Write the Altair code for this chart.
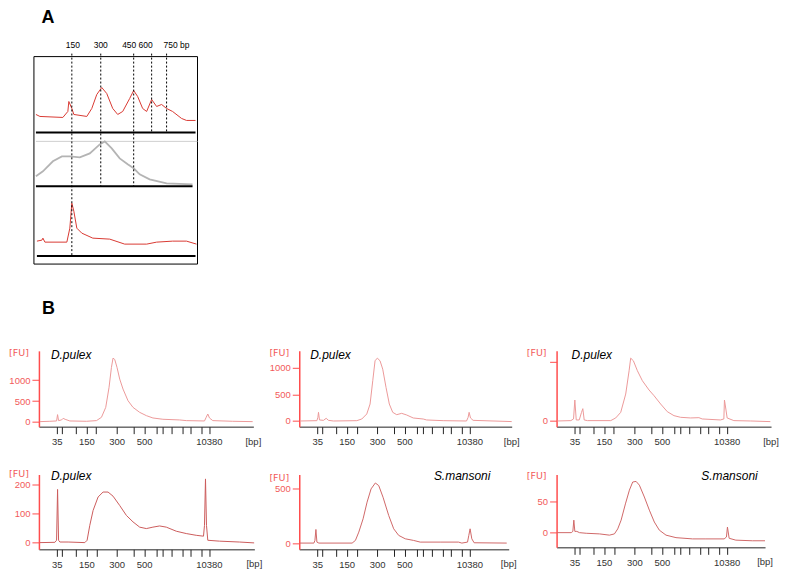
import altair as alt
import pandas as pd

FONT = "Liberation Sans"
RED_AXIS = "#ff4d4d"
RED_TEXT = "#f25a5a"

# ---------------- Panel A (fragment traces) ----------------
A_marker_text = ["150", "300", "450", "600", "750 bp"]
A_marker_pos = [38, 67, 100, 118, 133]
A_marker_label_pos = [39, 67, 95.5, 112, 143]
A_marker_floor = [8, 78, 78, 132, 132]
A_marker_top = 211
A_frame = {"x0": [0], "x1": [164], "y0": [0], "y1": [208]}

A1_pos = [2, 6, 29, 34, 35, 38, 40, 53, 58, 63, 68, 73, 79, 84, 89, 96, 100, 104, 109, 113, 118, 123, 128, 133, 139, 148, 153, 162]
A1_sig = [150, 148, 147, 153, 163, 156, 150, 148, 156, 170, 177, 171, 156, 150, 153, 166, 174, 168, 156, 153, 165, 158, 160, 156, 153, 146, 144, 144]

A2_pos = [2, 9, 19, 28, 36, 46, 56, 66, 71, 78, 86, 94, 100, 106, 116, 133, 159]
A2_sig = [88, 93, 103, 108, 108, 107, 111, 120, 123, 116, 106, 100, 96, 90, 85, 81, 80]

A3_pos = [3, 8, 9, 11, 33, 36, 38, 40, 43, 48, 59, 76, 91, 113, 123, 139, 153, 163]
A3_sig = [23, 24, 26, 22, 22, 36, 61, 53, 36, 31, 26, 25, 20, 20, 22, 23, 23, 20]

A_rail_level = [132, 78, 8]
A_rail_start = [2, 2, 3]
A_rail_end = [162, 159, 162]
A_grey_rail_level = [123]
A_grey_rail_start = [2]
A_grey_rail_end = [164]

# ---------------- Panel B (electropherograms) ----------------
LADDER_BP = [35, 50, 100, 150, 200, 300, 400, 500, 600, 700, 1000, 2000, 3000, 7000, 10380]
LADDER_POS = [18, 22.5, 36.5, 47.5, 57.5, 78, 95, 105.5, 118, 123.5, 133, 144, 151.5, 162.5, 170.5]
LADDER_SHOWN = [35, 150, 300, 500, 10380]

B11_t = [1, 11, 17.7, 18.7, 19.7, 22.7, 24.3, 26.3, 31, 47.7, 57.7, 62.7, 67, 70.3, 72.7, 74.3, 76, 78.3, 81, 84.3, 89.3, 94.3, 101, 107.7, 114.3, 124.3, 141, 147.7, 166, 167.7, 169.3, 171, 174.3, 194.3, 214.3]
B11_fu = [8, 16, 24, 175, 32, 48, 87, 63, 24, 16, 32, 111, 349, 825, 1302, 1524, 1492, 1302, 1024, 786, 508, 349, 230, 151, 95, 64, 48, 32, 24, 111, 190, 95, 32, 16, 8]

B12_t = [1, 17.7, 18.7, 19.3, 20.3, 24.3, 27, 29.3, 34.3, 57.7, 62.7, 67.7, 71, 73.7, 76, 78.3, 81, 83.7, 87, 90.3, 93.7, 97.7, 102.7, 107.7, 114.3, 124.3, 127.7, 144.3, 167.7, 169.3, 170.3, 171.7, 174.3, 194.3, 214.3]
B12_fu = [0, 6, 68, 162, 19, 12, 50, 12, 0, 6, 37, 131, 317, 753, 1126, 1176, 1126, 970, 628, 317, 162, 118, 143, 112, 56, 37, 19, 6, 0, 68, 162, 56, 12, 0, -12]

B13_t = [1, 14.3, 17, 18.3, 19.7, 22.7, 25, 26.3, 27.7, 31, 54.3, 59.3, 64.3, 69.3, 72.7, 74.3, 77, 81, 86, 92.7, 97.7, 104.3, 111, 117.7, 124.3, 134.3, 142.7, 146, 164.3, 167.7, 168.3, 169.7, 171, 177.7, 194.3, 214.3]
B13_fu = [0, 6, 34, 354, 17, 17, 146, 208, 17, 6, 6, 51, 146, 455, 849, 1062, 1017, 849, 680, 523, 427, 287, 157, 90, 62, 51, 56, 34, 17, 34, 354, 202, 51, 6, 0, -11]

B21_t = [1, 16, 17.7, 18.7, 19.7, 21, 29.3, 46, 48.3, 51, 54.3, 59.3, 64.3, 69.3, 74.3, 81, 87.7, 94.3, 101, 107.7, 114.3, 121, 127.7, 137.7, 147.7, 157.7, 165, 166, 167, 168, 169.3, 181, 201, 216]
B21_fu = [0, 1, 8, 182, 8, 2, 2, 0, 8, 59, 110, 156, 173, 173, 159, 127, 93, 71, 53, 48, 53, 57, 53, 39, 31, 25, 22, 59, 218, 59, 8, 5, 2, -1]

B22_t = [0.7, 14.7, 15.7, 16.7, 17.7, 19.7, 53, 56.3, 59.7, 64, 68, 72, 76.3, 79.7, 84, 89.7, 94.7, 99.7, 106.3, 114.7, 121.3, 141.3, 159.7, 163, 168.7, 170, 171.3, 173, 175.3, 208]
B22_fu = [0, 0, 24, 124, 9, 0, 0, 24, 100, 221, 373, 494, 548, 524, 418, 251, 130, 70, 39, 24, 9, 9, 9, 0, 9, 70, 130, 39, 3, 0]

B23_t = [0.3, 14.7, 16.3, 17.3, 18.3, 20.3, 23, 29.7, 43, 53, 58, 61.3, 64.7, 69, 73, 76.3, 79.7, 83, 88, 93, 98, 103, 109.7, 119.7, 136.3, 149.7, 168, 170.3, 171.3, 173, 179.7, 196.3, 209]
B23_fu = [0, 0, 2, 20, 2, 2, 0, -1, -2, -4, -2, 6, 20, 46, 68, 81, 82, 76, 57, 36, 17, 4, -4, -8, -10, -10, -10, -7, 9, -9, -12, -13, -13]

x_label_expr = " : ".join(
    f"datum.value == {p} ? '{b}'" for p, b in zip(LADDER_POS, LADDER_BP) if b in LADDER_SHOWN
) + " : ''"


def text_layer(txt, x, y, font=FONT, **kw):
    return alt.Chart(pd.DataFrame({"t": [txt]})).mark_text(font=font, **kw).encode(
        text="t:N", x=alt.value(x), y=alt.value(y)
    )


# ---------- Panel A chart ----------
xA = alt.Scale(domain=[5, 164], nice=False, zero=False)
yA = alt.Scale(domain=[-39, 208], nice=False, zero=False)
A_VIEW_H = 247


def lane(pos, sig, color, width):
    return alt.Chart(pd.DataFrame({"pos": pos, "sig": sig})).mark_line(
        color=color, strokeWidth=width
    ).encode(
        x=alt.X("pos:Q", scale=xA, axis=None),
        y=alt.Y("sig:Q", scale=yA, axis=None),
    )


frame = alt.Chart(pd.DataFrame(A_frame)).mark_rect(fill=None, stroke="black", strokeWidth=1).encode(
    x=alt.X("x0:Q", scale=xA, axis=None), x2="x1:Q",
    y=alt.Y("y0:Q", scale=yA, axis=None), y2="y1:Q",
)

rails = alt.Chart(pd.DataFrame({"a": A_rail_start, "b": A_rail_end, "lvl": A_rail_level})).mark_rule(
    color="black", strokeWidth=2
).encode(x=alt.X("a:Q", scale=xA, axis=None), x2="b:Q", y=alt.Y("lvl:Q", scale=yA, axis=None))

grey_rail = alt.Chart(pd.DataFrame({"a": A_grey_rail_start, "b": A_grey_rail_end, "lvl": A_grey_rail_level})).mark_rule(
    color="#d0d0d0", strokeWidth=1
).encode(x=alt.X("a:Q", scale=xA, axis=None), x2="b:Q", y=alt.Y("lvl:Q", scale=yA, axis=None))

markers_df = pd.DataFrame({
    "pos": A_marker_pos,
    "top": [A_marker_top] * len(A_marker_pos),
    "floor": A_marker_floor,
    "lpos": A_marker_label_pos,
    "txt": A_marker_text,
})
marker_lines = alt.Chart(markers_df).mark_rule(color="black", strokeWidth=1, strokeDash=[2, 2]).encode(
    x=alt.X("pos:Q", scale=xA, axis=None), y=alt.Y("top:Q", scale=yA, axis=None), y2="floor:Q"
)
marker_labels = alt.Chart(markers_df).mark_text(font=FONT, fontSize=8.5, color="black", baseline="alphabetic").encode(
    x=alt.X("lpos:Q", scale=xA, axis=None), y=alt.value(-8.5), text="txt:N"
)

panelA = alt.layer(
    frame,
    grey_rail,
    lane(A2_pos, A2_sig, "#b4b4b4", 1.8),
    lane(A1_pos, A1_sig, "#d93a33", 1),
    lane(A3_pos, A3_sig, "#d93a33", 1),
    rails,
    marker_lines,
    marker_labels,
    text_layer("A", 2.7, -33.3, fontSize=18, fontWeight="bold", align="left", baseline="alphabetic", color="black"),
).properties(width=159, height=A_VIEW_H)


# ---------- Panel B charts ----------
def subplot(t, fu, width, height, ydom, yticks, color, name, name_dx, name_dy, fu_dy,
            hide_upper=False, extra_label=None):
    xs = alt.Scale(domain=[0, width], nice=False, zero=False)
    ys = alt.Scale(domain=ydom, nice=False, zero=False)
    yaxis_kw = dict(
        values=yticks, title=None, grid=False, format="d",
        domainColor=RED_AXIS, domainWidth=1.5, tickColor=RED_AXIS, tickSize=7,
        labelPadding=2, labelColor=RED_TEXT, labelFont=FONT, labelFontSize=9.5,
        labelOverlap=False, labelFlush=False,
    )
    if hide_upper:
        yaxis_kw["labelExpr"] = "datum.value == 0 ? '0' : ''"
    trace = alt.Chart(pd.DataFrame({"t": t, "fu": fu})).mark_line(color=color, strokeWidth=1, clip=True).encode(
        x=alt.X("t:Q", scale=xs, axis=alt.Axis(
            values=LADDER_POS, labelExpr=x_label_expr, title=None, grid=False,
            domainColor="#222222", tickColor="#222222", tickSize=7, labelPadding=3,
            labelColor="#333333", labelFont=FONT, labelFontSize=9.5,
            labelOverlap=False, labelFlush=False, labelBound=False)),
        y=alt.Y("fu:Q", scale=ys, axis=alt.Axis(**yaxis_kw)),
    )
    layers = [
        trace,
        text_layer("[FU]", -20, fu_dy, font="DejaVu Sans", fontSize=9.5, color=RED_TEXT, align="center", baseline="middle"),
        text_layer(name, name_dx, name_dy, fontSize=12, fontStyle="italic", color="black", align="left", baseline="middle"),
        text_layer("[bp]", width, height + 15, fontSize=9.5, color="#333333", align="center", baseline="middle"),
    ]
    if extra_label is not None:
        layers.append(extra_label)
    return alt.layer(*layers).properties(width=width, height=height)


def placeholder():
    return alt.Chart(pd.DataFrame({"v": [0]})).mark_point(opacity=0).encode(
        x=alt.X("v:Q", axis=None), y=alt.Y("v:Q", axis=None)
    ).properties(width=1, height=A_VIEW_H)


s11 = subplot(B11_t, B11_fu, 215, 76, [-112, 1698], [0, 500, 1000], "#ec9a9a", "D.pulex", 12, 4, 1.7,
              extra_label=text_layer("B", 3, -37, fontSize=18, fontWeight="bold", align="left", baseline="alphabetic", color="black"))
s12 = subplot(B12_t, B12_fu, 213, 76, [-106, 1312], [0, 500, 1000], "#ec9a9a", "D.pulex", 11, 4, 1.7)
s13 = subplot(B13_t, B13_fu, 215, 76, [-96, 1185], [0, 1000], "#ec9a9a", "D.pulex", 15, 4, 1.7, hide_upper=True)

s21 = subplot(B21_t, B21_fu, 216, 75, [-23, 233], [0, 100, 200], "#cc5c5c", "D.pulex", 12, 1.7, -1)
s22 = subplot(B22_t, B22_fu, 210, 75, [-57, 625], [0, 500], "#d06868", "S.mansoni", 135, 1.7, 3)
s23 = subplot(B23_t, B23_fu, 209, 73, [-23.5, 93], [0, 50], "#d06868", "S.mansoni", 145, 1.7, 1)

chart = alt.concat(
    panelA, placeholder(), placeholder(),
    s11, s12, s13,
    s21, s22, s23,
    columns=3,
    spacing={"row": 48, "column": 45},
    bounds="flush",
    align="none",
).properties(
    padding={"left": 0, "top": 0, "right": 5, "bottom": 5},
    background="white",
).configure_view(strokeWidth=0)

chart.save("out.html", embed_options={"renderer": "svg", "actions": False})
